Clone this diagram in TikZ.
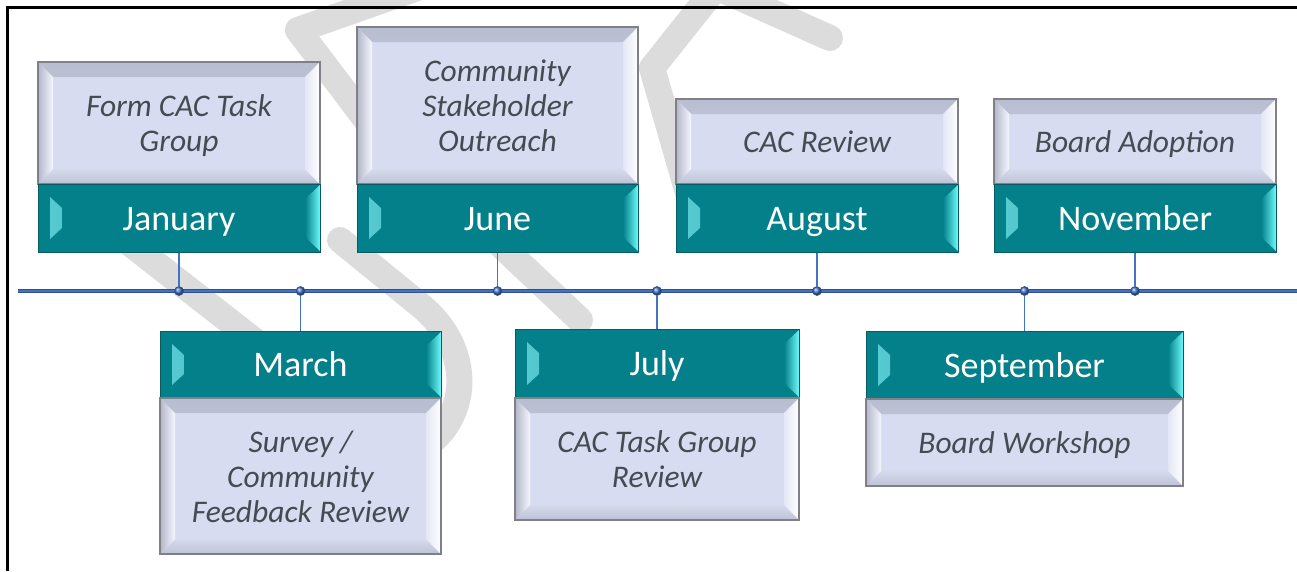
\documentclass[tikz,border=0pt]{standalone}
\usepackage{fontspec}
\setmainfont{Carlito}
\usetikzlibrary{calc}
\definecolor{tealface}{RGB}{4,128,138}
\definecolor{tealborder}{RGB}{10,90,98}
\definecolor{tealcyan}{RGB}{110,250,250}
\definecolor{tealhl}{RGB}{90,205,212}
\definecolor{descface}{RGB}{216,220,240}
\definecolor{descborder}{RGB}{128,128,136}
\definecolor{desctext}{RGB}{70,74,82}
\definecolor{bevtopA}{RGB}{185,189,208}
\definecolor{bevtopB}{RGB}{210,214,234}
\definecolor{bevbotA}{RGB}{190,194,214}
\definecolor{bevbotB}{RGB}{214,218,236}
\definecolor{bevleftA}{RGB}{178,182,202}
\definecolor{bevleftB}{RGB}{246,247,253}
\definecolor{bevrightA}{RGB}{228,230,244}
\definecolor{tlblue}{RGB}{68,114,196}
\definecolor{tldark}{RGB}{47,82,143}
\definecolor{wmgray}{RGB}{220,220,220}
\newcommand{\MonthFnt}{\fontsize{36}{40}\selectfont}
\newcommand{\DescFnt}{\fontsize{31.5}{35}\selectfont\itshape}
\newcommand{\DescTxt}[1]{\raisebox{-4pt}[\height][\depth]{\begin{tabular}{@{}c@{}}#1\end{tabular}}}
\tikzset{
  wm/.style={draw=wmgray, line width=26pt, line cap=round, line join=round},
  descbevel/.style={path picture={
    \path let \p1=(path picture bounding box.south west),
              \p2=(path picture bounding box.north east) in
      [top color=bevtopA, bottom color=bevtopB, draw=none]
      (\x1,\y2) -- (\x2,\y2) -- (\x2-15pt,\y2-15pt) -- (\x1+15pt,\y2-15pt) -- cycle;
    \path let \p1=(path picture bounding box.south west),
              \p2=(path picture bounding box.north east) in
      [bottom color=bevbotA, top color=bevbotB, draw=none]
      (\x1,\y1) -- (\x2,\y1) -- (\x2-15pt,\y1+15pt) -- (\x1+15pt,\y1+15pt) -- cycle;
    \path let \p1=(path picture bounding box.south west),
              \p2=(path picture bounding box.north east) in
      [left color=bevleftA, right color=bevleftB, draw=none]
      (\x1,\y1) -- (\x1,\y2) -- (\x1+15pt,\y2-15pt) -- (\x1+15pt,\y1+15pt) -- cycle;
    \path let \p1=(path picture bounding box.south west),
              \p2=(path picture bounding box.north east) in
      [left color=bevrightA, right color=white, draw=none]
      (\x2,\y1) -- (\x2,\y2) -- (\x2-15pt,\y2-15pt) -- (\x2-15pt,\y1+15pt) -- cycle;
  }},
  monthbevel/.style={path picture={
    \path let \p1=(path picture bounding box.south west),
              \p2=(path picture bounding box.north east) in
      [left color=tealhl, right color=tealface, draw=none]
      (\x1+12pt,\y2-13pt) -- (\x1+24pt,\y2-24pt) -- (\x1+24pt,\y1+24pt) -- (\x1+12pt,\y1+13pt) -- cycle;
    \path let \p1=(path picture bounding box.south west),
              \p2=(path picture bounding box.north east) in
      [left color=tealface, right color=tealcyan, draw=none]
      (\x2,\y2-1pt) -- (\x2-15pt,\y2-15pt) -- (\x2-15pt,\y1+15pt) -- (\x2,\y1+1pt) -- cycle;
  }},
  descbox/.style={rectangle, draw=descborder, line width=1.3pt, fill=descface,
    inner sep=0pt, align=center, text=desctext, font=\DescFnt, descbevel},
  monthbox/.style={rectangle, draw=tealborder, line width=1pt, fill=tealface,
    inner sep=0pt, text=white, font=\MonthFnt, text height=32pt, text depth=8pt, monthbevel},
  dot/.style={circle, minimum size=9pt, inner sep=0pt, shading=ball, ball color=tlblue, draw=tldark, line width=0.6pt},
  conn/.style={draw=tlblue, line width=1.5pt},
}
\begin{document}
\begin{tikzpicture}[x=1pt,y=-1pt]
\useasboundingbox (0,0) rectangle (1297,571);
\fill[white] (0,0) rectangle (1297,571);
% watermark
\draw[wm] (440,-20) -- (298,30) -- (370,125);
\draw[wm] (100,220) -- (260,345);
\draw[wm] (340,240) -- (420,305) .. controls (475,350) and (470,420) .. (420,450);
\draw[wm] (490,235) -- (580,320);
\draw[wm] (722,-20) -- (652,68) -- (690,200);
\draw[wm] (700,-20) -- (830,38);
% frame
\draw[black, line width=2.5pt] (7.5,571) -- (7.5,7.5) -- (1297,7.5);
% timeline
\coordinate (tlA) at (18,291);
\coordinate (tlB) at (1297,291);
\draw[tldark, line width=4pt] (tlA) -- (tlB);
\draw[tlblue, line width=2pt] (tlA) -- (tlB);
% top boxes
\node[descbox, minimum width=282pt, minimum height=122pt] (jand) at (179,123) {\DescTxt{Form CAC Task\\Group}};
\node[monthbox, minimum width=282pt, minimum height=68pt] (janm) at (179,218) {January};
\node[descbox, minimum width=281pt, minimum height=157pt] (jund) at (497.5,105.5) {\DescTxt{Community\\Stakeholder\\Outreach}};
\node[monthbox, minimum width=281pt, minimum height=68pt] (junm) at (497.5,218) {June};
\node[descbox, minimum width=282pt, minimum height=85pt] (augd) at (817,141.5) {\DescTxt{CAC Review}};
\node[monthbox, minimum width=282pt, minimum height=68pt] (augm) at (817,218) {August};
\node[descbox, minimum width=282pt, minimum height=85pt] (novd) at (1135,141.5) {\DescTxt{Board Adoption}};
\node[monthbox, minimum width=282pt, minimum height=68pt] (novm) at (1135,218) {November};
% bottom boxes
\node[monthbox, minimum width=281pt, minimum height=67pt] (marm) at (300.5,364.5) {March};
\node[descbox, minimum width=281pt, minimum height=156pt] (mard) at (300.5,476) {\DescTxt{Survey /\\Community\\Feedback Review}};
\node[monthbox, minimum width=284pt, minimum height=69pt] (julm) at (657,363.5) {July};
\node[descbox, minimum width=284pt, minimum height=122pt] (juld) at (657,459) {\DescTxt{CAC Task Group\\Review}};
\node[monthbox, minimum width=317pt, minimum height=68pt] (sepm) at (1024.5,365) {September};
\node[descbox, minimum width=317pt, minimum height=87pt] (sepd) at (1024.5,442.5) {\DescTxt{Board Workshop}};
% dots
\node[dot] (djan) at (179,291) {};
\node[dot] (dmar) at (300.5,291) {};
\node[dot] (djun) at (497.5,291) {};
\node[dot] (djul) at (657,291) {};
\node[dot] (daug) at (817,291) {};
\node[dot] (dsep) at (1024.5,291) {};
\node[dot] (dnov) at (1135,291) {};
% connectors
\draw[conn] (janm.south) -- (djan);
\draw[conn] (junm.south) -- (djun);
\draw[conn] (augm.south) -- (daug);
\draw[conn] (novm.south) -- (dnov);
\draw[conn] (dmar) -- (marm.north);
\draw[conn] (djul) -- (julm.north);
\draw[conn] (dsep) -- (sepm.north);
\end{tikzpicture}
\end{document}
